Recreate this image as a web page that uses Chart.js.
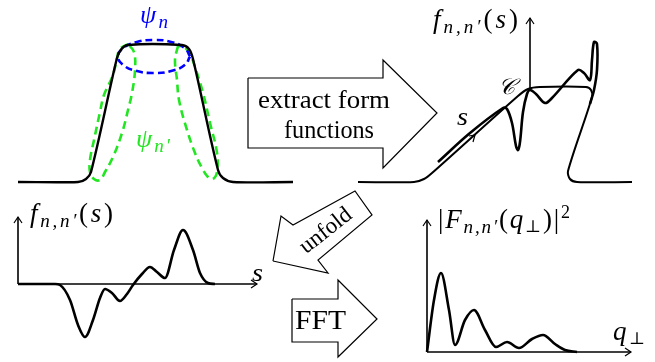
<!DOCTYPE html>
<html>
<head>
<meta charset="utf-8">
<script src="https://cdn.jsdelivr.net/npm/chart.js@4.4.0/dist/chart.umd.min.js"></script>
<style>
html,body{margin:0;padding:0;background:#fff;}
canvas{display:block;}
</style>
</head>
<body>
<canvas id="lienzo" width="655" height="362"></canvas>
<script>
// --- datos (unidades del dibujo, y hacia abajo) ---
var pozo = [[18,182],[78,182],[86,179],[91,172],[116,62],[120,51],[128,45],[182,45],[189,49],[193,59],[218,170],[223,178],[233,182],[293,182]];
var psiN = [[190,56.5],[185,48.3],[172,42.2],[154,40],[136,42.2],[123,48.3],[118,56.5],[123,64.8],[136,70.8],[154,73],[172,70.8],[185,64.8],[190,56.5]];
var psiN2Izq = [[128,44],[120,49],[117,58],[113,75],[104,95],[100,112],[94,140],[90,160],[90,172],[94,179],[100,180],[105,172],[113,157],[122,133],[128,110],[132,93],[135,70],[134,52],[128,44]];
var psiN2Der = [[178,46],[175,60],[177,80],[179,100],[187,130],[195,153],[202,168],[208,177],[213,179],[217,172],[217,153],[210,123],[203,93],[196,70],[190,54],[184,47],[178,46]];

var curvaC = [[358,182],[414,182],[424,179],[432,173],[518,96],[528,89],[540,87],[586,87],[591,90],[592,97],[568,171],[570,179],[577,182],[632,182]];
var formaSobreC = [[438,162],[470,133],[503,108],[507,109],[512,123],[516,146],[518,150],[520,142],[523,112],[527,94],[530,90],[536,94],[545,103],[552,98],[578,70],[584,73],[590,80],[592,60],[594,42],[597,44],[597,70],[594,90],[590,104]];

var ejeS = [18,55,60,70,78,85,93,100,105,112,120,127,133,142,150,157,165,174,183,193,200,208,215];
var ejeF = [284,284,285,300,325,337,320,298,289,293,301,294,285,274,267,272,278,250,230,250,273,283,284];

var ejeQ = [427,434,441,449,455,465,474,485,496,507,519,532,543,555,565,577];
var ejeFq = [352,300,273,310,345,320,310,330,347,342,348,339,335,344,350,352];

var flechaExtraer = [[248,78],[383,78],[383,60],[437,113],[383,168],[383,148],[248,148],[248,78]];
var flechaDesplegar = [[273,261],[281,216],[293,225],[355,191],[372,215],[318,260],[328,273],[273,261]];
var flechaFFT = [[292,299],[338,299],[338,280],[377,319],[338,357],[338,342],[292,342],[292,299]];

var ejes = [
  [[530,88],[530,18]],
  [[18,284],[18,217]],
  [[18,284],[257,284]],
  [[427,352],[427,220]],
  [[427,352],[631,352]]
];
var puntas = [
  [[526,24],[530,18],[534,24]],
  [[14,223],[18,217],[22,223]],
  [[251,280],[257,284],[251,288]],
  [[423,226],[427,220],[431,226]],
  [[625,348],[631,352],[625,356]],
  [[469,136],[475,135],[473,142]]
];

var SERIF = "'Liberation Serif','DejaVu Serif',serif";
// [partes, izquierda, derecha, linea base, color, espaciado]
var etiquetas = [
  [[['ψ',26,1,0],['n',19,1,5]], 140, 168, 23, '#0000ff', 1],
  [[['ψ',26,1,0],['n′',19,1,5]], 136, 170, 147, '#22e622', 1],
  [[['f',27,1,0],['n,n′',19,1,5],['(',27,0,0],['s',27,1,0],[')',27,0,0]], 433, 518, 28, '#000', 1],
  [[['f',27,1,0],['n,n′',19,1,5],['(',27,0,0],['s',27,1,0],[')',27,0,0]], 30, 113, 222, '#000', 1],
  [[['|',27,0,0],['F',27,1,0],['n,n′',19,1,5],['(',27,0,0],['q',27,1,0],['⊥',17,0,4],[')',27,0,0],['|',27,0,0],['2',18,0,-10]], 438, 570, 228, '#000', 1],
  [[['q',27,1,0],['⊥',17,0,4]], 613, 645, 340, '#000', 1],
  [[['s',26,1,0]], 457, 468, 125, '#000', 1],
  [[['s',26,1,0]], 252, 263, 281, '#000', 1],
  [[['𝒞',22,1,0]], 498, 515, 94, '#000', 1],
  [[['extract form',25,0,0]], 258, 390, 108, '#000', 0],
  [[['functions',25,0,0]], 284, 374, 138, '#000', 0],
  [[['FFT',27,0,0]], 295, 346, 329, '#000', 0]
];

function linea(datos, color, ancho, opciones) {
  return Object.assign({
    data: datos.map(p => ({x: p[0], y: p[1]})),
    showLine: true, pointRadius: 0, borderColor: color, borderWidth: ancho,
    backgroundColor: 'transparent', fill: false, tension: 0
  }, opciones || {});
}

// texto con subindices; el ancho sobrante se reparte entre letras o se estira
function dibujarPartes(ctx, partes, izq, der, base, color, espaciar) {
  let letras = [];
  partes.forEach(p => {
    Array.from(p[0]).forEach(c => letras.push({c: c, font: (p[2] ? 'italic ' : '') + p[1] + 'px ' + SERIF, dy: p[3]}));
  });
  let ancho = 0;
  letras.forEach(l => { ctx.font = l.font; l.w = ctx.measureText(l.c).width; ancho += l.w; });
  let extra = (der - izq) - ancho;
  let hueco = 0, esc = (der - izq) / ancho;
  if (espaciar && extra > 0 && letras.length > 1) { hueco = extra / (letras.length - 1); esc = 1; }
  ctx.save();
  ctx.translate(izq, base);
  ctx.scale(esc, 1);
  ctx.fillStyle = color;
  ctx.textBaseline = 'alphabetic';
  let cx = 0;
  letras.forEach(l => {
    ctx.font = l.font;
    ctx.fillText(l.c, cx, l.dy);
    cx += l.w + hueco;
  });
  ctx.restore();
}

var textos = {
  id: 'textos',
  afterDatasetsDraw(chart) {
    const ctx = chart.ctx, sx = chart.scales.x, sy = chart.scales.y;
    etiquetas.forEach(e => {
      dibujarPartes(ctx, e[0], sx.getPixelForValue(e[1]), sx.getPixelForValue(e[2]), sy.getPixelForValue(e[3]), e[4], e[5]);
    });
    // texto girado de la flecha "unfold"
    ctx.save();
    ctx.translate(sx.getPixelForValue(326), sy.getPixelForValue(231));
    ctx.rotate(-38 * Math.PI / 180);
    ctx.font = '23px ' + SERIF;
    ctx.fillStyle = '#000';
    ctx.textAlign = 'center';
    ctx.textBaseline = 'middle';
    ctx.fillText('unfold', 0, 0);
    ctx.restore();
  }
};

var conjuntos = [];
conjuntos.push(linea(flechaExtraer, '#000', 1.2));
conjuntos.push(linea(flechaDesplegar, '#000', 1.2));
conjuntos.push(linea(flechaFFT, '#000', 1.2));
ejes.forEach(e => conjuntos.push(linea(e, '#000', 1.6)));
puntas.forEach(e => conjuntos.push(linea(e, '#000', 1.2)));
conjuntos.push(linea(pozo, '#000', 2.4, {tension: 0.3}));
conjuntos.push(linea(psiN, '#0000ff', 2.6, {tension: 0.5, borderDash: [7, 4]}));
conjuntos.push(linea(psiN2Izq, '#22e622', 2.6, {tension: 0.4, borderDash: [8, 5]}));
conjuntos.push(linea(psiN2Der, '#22e622', 2.6, {tension: 0.4, borderDash: [8, 5]}));
conjuntos.push(linea(curvaC, '#000', 2, {tension: 0.3}));
conjuntos.push(linea(formaSobreC, '#000', 2.6, {tension: 0.35}));
conjuntos.push(linea(ejeS.map((s, i) => [s, ejeF[i]]), '#000', 2.6, {cubicInterpolationMode: 'monotone'}));
conjuntos.push(linea(ejeQ.map((q, i) => [q, ejeFq[i]]), '#000', 2.6, {cubicInterpolationMode: 'monotone'}));

new Chart(document.getElementById('lienzo').getContext('2d'), {
  type: 'scatter',
  data: {datasets: conjuntos},
  options: {
    responsive: false,
    animation: false,
    layout: {padding: 0},
    plugins: {legend: {display: false}, tooltip: {enabled: false}},
    scales: {
      x: {type: 'linear', min: 0, max: 655, display: false},
      y: {type: 'linear', min: 0, max: 362, reverse: true, display: false}
    }
  },
  plugins: [textos]
});
</script>
</body>
</html>
